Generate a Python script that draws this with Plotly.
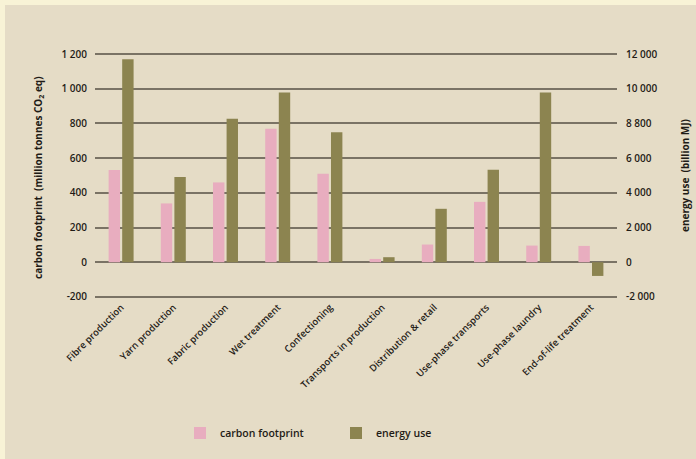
import plotly.graph_objects as go

categories = ["Fibre production", "Yarn production", "Fabric production", "Wet treatment",
              "Confectioning", "Transports in production", "Distribution & retail",
              "Use-phase transports", "Use-phase laundry", "End-of-life treatment"]
carbon = [531, 339, 460, 769, 510, 19, 102, 348, 96, 94]
energy = [11700, 4920, 8270, 9790, 7500, 290, 3080, 5330, 9790, -790]

left_vals = [-200, 0, 200, 400, 600, 800, 1000, 1200]
left_text = ["-200", "0", "200", "400", "600", "800", "1 000", "1 200"]
right_vals = [-2000, 0, 2000, 4000, 6000, 8000, 10000, 12000]
right_text = ["-2 000", "0", "2 000", "4 000", "6 000", "8 800", "10 000", "12 000"]

W, H = 696, 459
L, R, T, B = 95, 79, 52, 160
pw, ph = W - L - R, H - T - B

FONT = "Open Sans"
TXT = "#1f1b16"
GRID = "#7a7365"

fig = go.Figure()
fig.add_trace(go.Bar(x=categories, y=carbon, name="carbon footprint",
                     marker=dict(color="#e8adbf", line=dict(width=0)),
                     offsetgroup="1", yaxis="y"))
fig.add_trace(go.Bar(x=categories, y=energy, name="energy use",
                     marker=dict(color="#8c8450", line=dict(width=0)),
                     offsetgroup="2", yaxis="y2"))

def px2x(p):
    return (p - L) / pw

def py2y(p):
    return (H - B - p) / ph

fig.add_shape(type="rect", xref="paper", yref="paper", layer="below",
              x0=px2x(5), x1=px2x(W + 5), y0=py2y(H + 5), y1=py2y(5),
              fillcolor="#e5dcc6", line=dict(width=0))

fig.update_layout(
    width=W, height=H,
    margin=dict(l=L, r=R, t=T, b=B, pad=0),
    paper_bgcolor="#f8f3d6",
    plot_bgcolor="rgba(0,0,0,0)",
    barmode="group", bargap=0.48, bargroupgap=0.16,
    font=dict(family=FONT, size=10, color=TXT),
    showlegend=True,
    legend=dict(orientation="h", x=px2x(180), y=py2y(433), xanchor="left", yanchor="middle",
                font=dict(size=10.5, color=TXT, weight=600), bgcolor="rgba(0,0,0,0)",
                itemwidth=30, entrywidth=111, entrywidthmode="pixels"),
    xaxis=dict(tickangle=-45, tickfont=dict(size=9.5, color=TXT, weight=600), showgrid=False,
               showline=False, ticks="", zeroline=False),
    yaxis=dict(range=[-212, 1212], tickvals=left_vals, ticktext=left_text,
               showgrid=True, gridcolor=GRID, gridwidth=2, zeroline=False,
               tickfont=dict(size=10, color=TXT, weight=600), ticks="", ticklabelstandoff=7,
               showline=False),
    yaxis2=dict(range=[-2120, 12120], tickvals=right_vals, ticktext=right_text,
                overlaying="y", side="right", showgrid=False, zeroline=False,
                tickfont=dict(size=10, color=TXT, weight=600), ticks="", ticklabelstandoff=8,
                showline=False),
    annotations=[
        dict(text="<b>carbon footprint  (million tonnes CO<sub>2</sub> eq)</b>", textangle=-90,
             xref="paper", yref="paper", x=px2x(38), y=py2y(178), showarrow=False,
             font=dict(size=10, color=TXT), xanchor="center", yanchor="middle"),
        dict(text="<b>energy use  (billion MJ)</b>", textangle=-90,
             xref="paper", yref="paper", x=px2x(685), y=py2y(176), showarrow=False,
             font=dict(size=10, color=TXT), xanchor="center", yanchor="middle"),
    ],
)

fig.write_html("out.html", config={"displayModeBar": False},
               post_script="document.body.style.margin='0';document.body.style.overflow='hidden';")
